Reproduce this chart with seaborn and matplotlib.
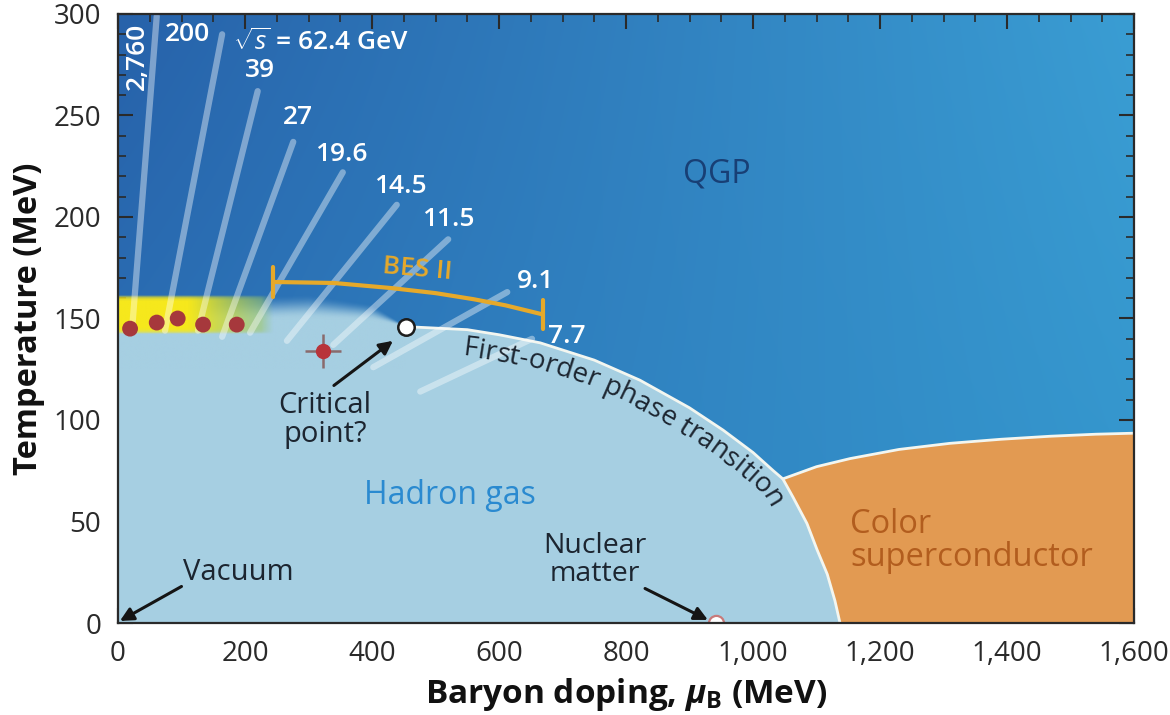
import numpy as np
import matplotlib
matplotlib.use("Agg")
import matplotlib.pyplot as plt
import seaborn as sns
import pandas as pd
from matplotlib.font_manager import FontProperties
from matplotlib.ticker import MultipleLocator, FuncFormatter
from matplotlib.colors import to_rgb

# ---------------- data ----------------
# crossover region (mu_B [MeV], T [MeV]) up to the critical point, with blur width
crossover_mu = [0, 100, 200, 300, 400, 453]
crossover_T = [145, 147, 149, 150, 149, 146]
crossover_blur = [10, 10, 12, 12, 8, 0]

# first-order transition line from the critical point down to T = 0
first_order_mu = [453, 550, 600, 665, 750, 822, 900, 953, 1000, 1032, 1047,
                  1063, 1085, 1101, 1117, 1129, 1137]
first_order_T = [146, 144.5, 142, 138, 129.5, 119.6, 106, 95, 84, 75, 71,
                 62, 49, 36, 24, 11, 0]

# upper boundary of the colour-superconductor phase
csc_top_mu = [1047, 1100, 1153, 1230, 1310, 1390, 1468, 1540, 1600]
csc_top_T = [71, 77, 81, 85.5, 88.5, 90.5, 92, 93, 93.5]

# beam-energy trajectories (straight streaks)
beam_top_mu = [61, 164, 220, 276, 354, 439, 520, 613, 652]
beam_top_T = [299, 290, 262, 237, 222, 206, 189, 163, 140]
beam_bot_mu = [22, 74, 126, 164, 208, 266, 339, 402, 476]
beam_bot_T = [144, 144, 144, 141, 143, 139, 137, 126, 114]

# beam-energy labels
energy_labels = ["2,760", "200", "39", "27", "19.6", "14.5", "11.5", "9.1", "7.7"]
energy_label_mu = [30, 109, 224, 284, 351, 444, 520, 657, 707]
energy_label_T = [279, 290, 272, 249, 231, 215, 199, 168, 141]

# chemical freeze-out points
freeze_mu = [19, 61, 94, 134, 187]
freeze_T = [145, 148, 150, 147, 147]

# lattice estimate with error bars
lattice_mu, lattice_T, lattice_dmu, lattice_dT = 323, 134, 28, 8.6

# critical point and nuclear matter
critical_mu, critical_T = 453, 146
nuclear_mu, nuclear_T = 942, 0

# yellow freeze-out band
band_mu = [0, 245]
band_T = [142, 162]

# BES II bracket
bes_mu = [244, 340, 430, 500, 560, 610, 669]
bes_T = [168, 167.5, 165, 162.5, 159.5, 156.5, 152]
bes_left_bar_T = [160.5, 175.5]
bes_right_bar_T = [145, 159]

# ---------------- style ----------------
sns.set_theme(style="ticks")
plt.rcParams["font.family"] = ["Open Sans", "DejaVu Sans"]
plt.rcParams["mathtext.fontset"] = "custom"
plt.rcParams["mathtext.rm"] = "Open Sans"
plt.rcParams["mathtext.it"] = "Open Sans:italic"
plt.rcParams["mathtext.bf"] = "Open Sans:bold"
plt.rcParams["mathtext.bfit"] = "Open Sans:italic:bold"

QGP_TL, QGP_TR = to_rgb("#2762aa"), to_rgb("#3a9dd3")
QGP_BL, QGP_BR = to_rgb("#2d76ba"), to_rgb("#3394cb")
HADRON = "#a6cfe2"
ORANGE = "#e29a52"
LINE_W = "#f3f6f0"
DARK = "#1c2530"

fig = plt.figure(figsize=(11.7, 7.15), dpi=100)
ax = fig.add_axes([118 / 1170, 1 - 623 / 715, (1134 - 118) / 1170, (623 - 14) / 715])
ax.set_xlim(0, 1600)
ax.set_ylim(0, 300)

# QGP background gradient
nx, ny = 160, 60
fx = np.linspace(0, 1, nx)[None, :, None]
fy = np.linspace(0, 1, ny)[:, None, None]
grad = (np.array(QGP_BL) * (1 - fx) * (1 - fy) + np.array(QGP_BR) * fx * (1 - fy)
        + np.array(QGP_TL) * (1 - fx) * fy + np.array(QGP_TR) * fx * fy)
ax.imshow(grad, extent=[0, 1600, 0, 300], origin="lower", aspect="auto",
          interpolation="bilinear", zorder=0)

# hadron gas region
had_mu = crossover_mu + first_order_mu[1:]
had_T = crossover_T + first_order_T[1:]
ax.fill_between(had_mu, 0, had_T, color=HADRON, lw=0, zorder=1)

# blurred crossover (covers the sharp edge of the fill below it)
mu_g = np.linspace(0, 453, 454)
T_g = np.linspace(125, 185, 241)
Tc = np.interp(mu_g, crossover_mu, crossover_T)
wb = np.interp(mu_g, crossover_mu, crossover_blur)
MM, TT = np.meshgrid(mu_g, T_g)
d = (TT - Tc[None, :]) / np.maximum(wb[None, :], 1e-6)
a = np.clip(1 - d, 0, 1)
a = a * a * (3 - 2 * a)
a[TT <= Tc[None, :]] = 1.0
sharp = wb < 0.5
a[:, sharp] = (TT[:, sharp] <= Tc[None, sharp]).astype(float)
over = np.zeros(a.shape + (4,))
over[..., :3] = to_rgb(HADRON)
over[..., 3] = a
ax.imshow(over, extent=[0, 453, 125, 185], origin="lower", aspect="auto",
          interpolation="bilinear", zorder=1.5)

# colour superconductor
i0 = first_order_mu.index(1047)
poly_mu = first_order_mu[i0:] + [1600] + csc_top_mu[::-1]
poly_T = first_order_T[i0:] + [0] + csc_top_T[::-1]
ax.fill(poly_mu, poly_T, color=ORANGE, lw=0, zorder=1)

# boundaries
ax.plot(first_order_mu, first_order_T, color=LINE_W, lw=2, zorder=2,
        solid_capstyle="round")
ax.plot(csc_top_mu, csc_top_T, color=LINE_W, lw=2, zorder=2)

# yellow band
nb = 200
t = np.linspace(0, 1, nb)
yel = np.array(to_rgb("#f6e81c"))
grn = np.array(to_rgb("#8fc270"))
tt = np.clip((t - 0.45) / 0.55, 0, 1)
cols = yel[None, :] * (1 - tt)[:, None] + grn[None, :] * tt[:, None]
alph = 1 - 0.55 * tt ** 1.3
alph *= np.clip((1 - t) / 0.08, 0, 1)
band = np.zeros((20, nb, 4))
band[..., :3] = cols[None, :, :]
band[..., 3] = alph[None, :]
vy = np.linspace(0, 1, 20)
band[..., 3] *= np.clip(np.minimum(vy, 1 - vy) / 0.12, 0, 1)[:, None] ** 0.5
ax.imshow(band, extent=[band_mu[0], band_mu[1], band_T[0], band_T[1]],
          origin="lower", aspect="auto", interpolation="bilinear", zorder=2.5)

# beam-energy streaks
for m0, t0, m1, t1 in zip(beam_bot_mu, beam_bot_T, beam_top_mu, beam_top_T):
    ax.plot([m0, m1], [t0, t1], color="white", alpha=0.4, lw=4.5,
            solid_capstyle="round", zorder=3)

# freeze-out points
fo = pd.DataFrame({"mu": freeze_mu, "T": freeze_T})
sns.scatterplot(data=fo, x="mu", y="T", ax=ax, color="#a6383c", s=130,
                edgecolor="none", zorder=4, legend=False)

# lattice point with error bars
ax.errorbar(lattice_mu, lattice_T, xerr=lattice_dmu, yerr=lattice_dT, fmt="o",
            color="#b8343a", ecolor="#8a6a6c", elinewidth=1.8, capsize=0,
            markersize=10, zorder=4)

# critical point & nuclear matter
cp = pd.DataFrame({"mu": [critical_mu], "T": [critical_T]})
sns.scatterplot(data=cp, x="mu", y="T", ax=ax, color="white", s=140,
                edgecolor="#1c1c1c", linewidth=1.8, zorder=6, legend=False)
ax.scatter([nuclear_mu], [nuclear_T], s=120, color="white", edgecolor="#c87a7a",
           linewidth=1.6, zorder=6, clip_on=True)

# BES II bracket
BES = "#e6a92a"
ax.plot(bes_mu, bes_T, color=BES, lw=3, zorder=4)
ax.plot([bes_mu[0]] * 2, bes_left_bar_T, color=BES, lw=3, zorder=4)
ax.plot([bes_mu[-1]] * 2, bes_right_bar_T, color=BES, lw=3, zorder=4)
ax.text(471, 174, "BES II", color=BES, fontsize=19, fontweight="semibold",
        ha="center", va="center", rotation=-5, zorder=5)

# beam-energy labels
for lab, m, tv in zip(energy_labels, energy_label_mu, energy_label_T):
    ax.text(m, tv, lab, color="white", fontsize=19, fontweight="semibold",
            ha="center", va="center", rotation=90 if lab == "2,760" else 0,
            zorder=5)
ax.text(181, 286, r"$\sqrt{s}$ = 62.4 GeV", color="white", fontsize=19,
        fontweight="semibold", ha="left", va="center", zorder=5)

# region labels
ax.text(943, 221, "QGP", color="#183f75", fontsize=23, ha="center", va="center")
ax.text(523, 63, "Hadron gas", color="#2a8ad0", fontsize=23, ha="center", va="center")
ax.text(1153, 40.5, "Color\nsuperconductor", color="#b25d1e", fontsize=23.5,
        ha="left", va="center", linespacing=1.0)

# annotations with arrows
arr = dict(arrowstyle="-|>", color="#151515", lw=2.2, mutation_scale=20,
           shrinkA=0, shrinkB=0)
ax.text(326, 100, "Critical\npoint?", color=DARK, fontsize=21, ha="center",
        va="center", linespacing=1.0, zorder=5)
ax.annotate("", xy=(433, 139), xytext=(340, 117), arrowprops=arr, zorder=5)
ax.text(102, 25, "Vacuum", color=DARK, fontsize=21, ha="left", va="center", zorder=5)
ax.annotate("", xy=(3, 1), xytext=(100, 18), arrowprops=arr, zorder=5)
ax.text(751, 31, "Nuclear\nmatter", color=DARK, fontsize=20.5, ha="center",
        va="center", linespacing=1.0, zorder=5)
ax.annotate("", xy=(929, 1.5), xytext=(830, 17), arrowprops=arr, zorder=5)

# axes styling
ax.xaxis.set_major_locator(MultipleLocator(200))
ax.xaxis.set_minor_locator(MultipleLocator(50))
ax.yaxis.set_major_locator(MultipleLocator(50))
ax.yaxis.set_minor_locator(MultipleLocator(10))
ax.xaxis.set_major_formatter(FuncFormatter(lambda v, p: f"{v:,.0f}"))
ax.tick_params(which="both", direction="in", top=True, right=True,
               color="#2a2a2a", labelsize=20, labelcolor="#2a2a2a")
ax.tick_params(which="major", length=11, width=1.5)
ax.tick_params(which="minor", length=6, width=1.2)
ax.tick_params(axis="x", which="major", pad=12)
ax.tick_params(axis="y", which="major", pad=12)
for sp in ax.spines.values():
    sp.set_linewidth(1.6)
    sp.set_color("#2a2a2a")
    sp.set_zorder(10)
ax.set_xlabel(r"Baryon doping, $\mathbfit{\mu}_\mathbf{B}$ (MeV)", fontsize=24,
              fontweight="bold", color="#111111", labelpad=6)
ax.set_ylabel("Temperature (MeV)", fontsize=23.5, fontweight="bold",
              color="#111111", labelpad=6)


# curved text along the first-order line
def curved_text(ax, text, mu, T, start_mu, offset_px, prop, color):
    renderer = ax.figure.canvas.get_renderer()
    pts = ax.transData.transform(np.column_stack([mu, T]))
    seg = np.hypot(np.diff(pts[:, 0]), np.diff(pts[:, 1]))
    s = np.concatenate([[0], np.cumsum(seg)])
    ss = np.arange(0, s[-1], 0.5)
    xs = np.interp(ss, s, pts[:, 0])
    ys = np.interp(ss, s, pts[:, 1])
    dx = np.gradient(xs)
    dy = np.gradient(ys)
    k = 61
    ker = np.ones(k) / k
    dxp = np.convolve(np.pad(dx, k, mode="edge"), ker, mode="same")[k:-k]
    dyp = np.convolve(np.pad(dy, k, mode="edge"), ker, mode="same")[k:-k]
    nrm = np.hypot(dxp, dyp)
    tx, ty = dxp / nrm, dyp / nrm
    ox = xs + offset_px * ty
    oy = ys - offset_px * tx
    so = np.concatenate([[0], np.cumsum(np.hypot(np.diff(ox), np.diff(oy)))])
    x_start = ax.transData.transform((start_mu, 0))[0]
    i_start = int(np.searchsorted(ox, x_start))
    s0 = so[i_start]

    def adv(sub):
        if not sub:
            return 0.0
        w1 = renderer.get_text_width_height_descent(sub + "|", prop, ismath=False)[0]
        w2 = renderer.get_text_width_height_descent("|", prop, ismath=False)[0]
        return w1 - w2

    inv = ax.transData.inverted()
    for i, ch in enumerate(text):
        if ch == " ":
            continue
        c = s0 + 0.5 * (adv(text[:i]) + adv(text[:i + 1]))
        j = min(int(np.searchsorted(so, c)), len(so) - 1)
        ang = np.degrees(np.arctan2(ty[j], tx[j]))
        xd, yd = inv.transform((ox[j], oy[j]))
        ax.text(xd, yd, ch, fontproperties=prop, color=color, rotation=ang,
                rotation_mode="anchor", ha="center", va="baseline", zorder=5)


prop = FontProperties(family=["Open Sans", "DejaVu Sans"], size=20)
curved_text(ax, "First-order phase transition", first_order_mu, first_order_T,
            542, 26, prop, DARK)

fig.savefig("out.png", dpi=100)
